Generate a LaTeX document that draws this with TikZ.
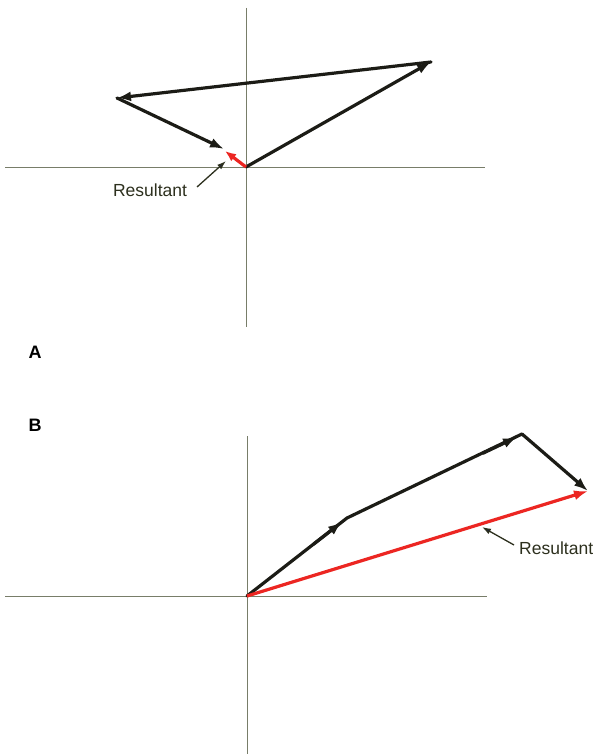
\documentclass[tikz,border=0pt]{standalone}
\usepackage{fontspec}
\setmainfont{Liberation Sans}
\usetikzlibrary{arrows.meta,calc}
\definecolor{axiscol}{RGB}{120,125,105}
\definecolor{veccol}{RGB}{28,28,22}
\definecolor{rescol}{RGB}{236,38,34}
\definecolor{txtcol}{RGB}{45,48,30}
\definecolor{ptrcol}{RGB}{30,35,60}
\tikzset{
  axis/.style={draw=axiscol, line width=0.9pt},
  vec/.style={draw=veccol, line width=3.2pt, line cap=round, -{Latex[length=14pt,width=10pt]}},
  stub/.style={draw=veccol, line width=3.2pt, line cap=round, line join=round},
  resvec/.style={draw=rescol, line width=3.2pt, -{Latex[length=14pt,width=10pt]}},
  ptr/.style={draw=txtcol, line width=1.3pt, -{Latex[length=9pt,width=6pt,fill=ptrcol]}},
  lbl/.style={text=txtcol, font=\fontsize{17.5}{17.5}\selectfont, inner sep=0pt},
  part/.style={font=\fontsize{18}{18}\selectfont\bfseries, inner sep=0pt}
}
\begin{document}
\begin{tikzpicture}[x=1pt,y=-1pt]
\useasboundingbox (0,0) rectangle (600,754);
\fill[white] (0,0) rectangle (600,754);
% ---- Diagram A ----
\coordinate (aT) at (246,8);
\coordinate (aB) at (246,327);
\coordinate (aL) at (5,167);
\coordinate (aR) at (485,167);
\draw[axis] (aT) -- (aB);
\draw[axis] (aL) -- (aR);
\coordinate (aO) at (246,167);
\coordinate (aP1) at (431,62);
\coordinate (aP2) at (117,98);
\coordinate (aP3) at (224,149);
\coordinate (aQ) at (225,151);
\draw[vec] (aO) -- (aP1);
\draw[vec] (aP1) -- (aP2);
\draw[vec] (aP2) -- (aP3);
\draw[draw=rescol, line width=3.2pt, -{Latex[length=11pt,width=9pt]}] (aO) -- (aQ);
\node[lbl] (resA) at (150,190) {Resultant};
\coordinate (aPtrS) at (197,187);
\coordinate (aPtrE) at (226,161);
\draw[ptr] (aPtrS) -- (aPtrE);
\node[part] (labA) at (35,352) {A};
% ---- Diagram B ----
\coordinate (bT) at (247,436);
\coordinate (bB) at (247,754);
\coordinate (bL) at (5,596);
\coordinate (bR) at (487,596);
\draw[axis] (bT) -- (bB);
\draw[axis] (bL) -- (bR);
\coordinate (bO) at (247,596);
\coordinate (bP1) at (342,522);
\coordinate (bP1b) at (347,518);
\coordinate (bP2) at (517,437);
\coordinate (bP2b) at (522,434);
\coordinate (bP3) at (588,491);
\draw[stub] (bO) -- (bP1b) -- (bP2b);
\draw[vec] ($(bO)!0.7!(bP1)$) -- (bP1);
\draw[vec] ($(bP1b)!0.8!(bP2)$) -- (bP2);
\draw[vec] (bP2b) -- (bP3);
\draw[resvec] (bO) -- (bP3);
\node[lbl, anchor=west] (resB) at (519,548) {Resultant};
\coordinate (bPtrS) at (514,545);
\coordinate (bPtrE) at (482,527);
\draw[ptr] (bPtrS) -- (bPtrE);
\node[part] (labB) at (35,425) {B};
\end{tikzpicture}
\end{document}
